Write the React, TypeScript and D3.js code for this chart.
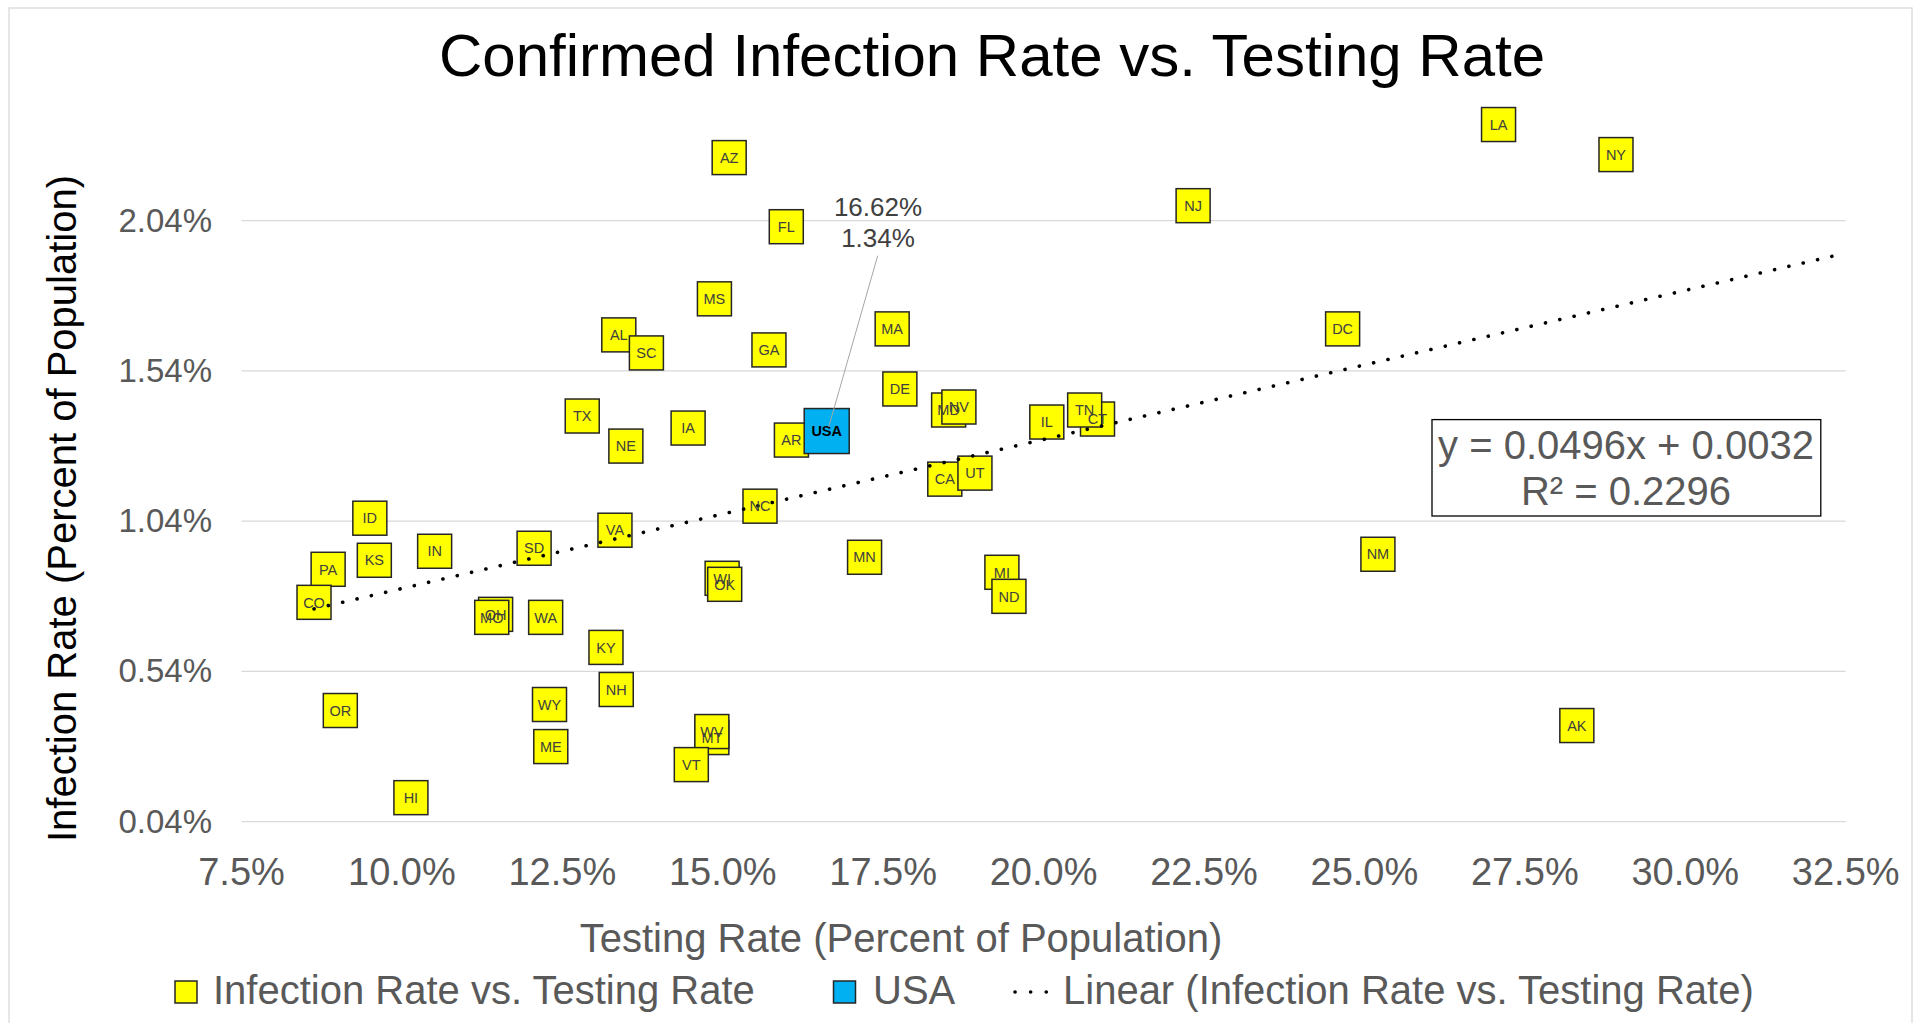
import React from 'react';
import * as d3 from 'd3';

// state abbreviations, testing rate (% of pop.) and infection rate (% of pop.)
const states = ["AZ", "LA", "NY", "NJ", "FL", "MS", "MA", "DC", "AL", "SC", "GA", "DE", "MD", "NV", "CT", "TN", "IL", "TX", "IA", "AR", "NE", "CA", "UT", "NC", "ID", "VA", "SD", "IN", "PA", "KS", "CO", "MN", "NM", "MI", "ND", "WI", "OK", "OH", "MO", "WA", "KY", "NH", "WY", "OR", "MT", "WV", "ME", "VT", "AK", "HI"];
const testingRate = [15.10, 27.09, 28.92, 22.33, 15.99, 14.87, 17.64, 24.66, 13.38, 13.81, 15.72, 17.76, 18.52, 18.68, 20.84, 20.64, 20.05, 12.81, 14.46, 16.07, 13.49, 18.46, 18.93, 15.58, 9.50, 13.32, 12.06, 10.51, 8.85, 9.57, 8.63, 17.21, 25.21, 19.35, 19.46, 14.99, 15.03, 11.46, 11.40, 12.24, 13.18, 13.34, 12.30, 9.04, 14.83, 14.83, 12.32, 14.51, 28.31, 10.14];
const infectionRate = [2.25, 2.36, 2.26, 2.09, 2.02, 1.78, 1.68, 1.68, 1.66, 1.60, 1.61, 1.48, 1.41, 1.42, 1.38, 1.41, 1.37, 1.39, 1.35, 1.31, 1.29, 1.18, 1.20, 1.09, 1.05, 1.01, 0.95, 0.94, 0.88, 0.91, 0.77, 0.92, 0.93, 0.87, 0.79, 0.85, 0.83, 0.73, 0.72, 0.72, 0.62, 0.48, 0.43, 0.41, 0.32, 0.34, 0.29, 0.23, 0.36, 0.12];

const usaTesting = 16.62;
const usaInfection = 1.34;

// trendline from the chart's equation (fractions)
const trendSlope = 0.0496;
const trendIntercept = 0.0032;
const trendR2 = 0.2296;
const trendEnd = 32.5;

const xTicks = [7.5, 10, 12.5, 15, 17.5, 20, 22.5, 25, 27.5, 30, 32.5];
const yTicks = [0.04, 0.54, 1.04, 1.54, 2.04];

const FONT = '"Liberation Sans", Arial, sans-serif';

const App = () => {
  const x = d3.scaleLinear().domain([7.5, 32.5]).range([241.5, 1845.7]);
  const y = d3.scaleLinear().domain([0.04, 2.04]).range([821.7, 220.7]);

  const points = states.map((s, i) => ({ s, tx: testingRate[i], ir: infectionRate[i] }));

  const trendStart = d3.min(testingRate);
  const trendY = (t) => (trendSlope * (t / 100) + trendIntercept) * 100;
  const trendLine = d3.line()
    .x(d => x(d))
    .y(d => y(trendY(d)));

  const box = 34;
  const usaBox = 45;

  return (
    <div style={{ position: 'absolute', left: 0, top: 0 }}>
      <svg width={1921} height={1023} style={{ display: 'block', background: '#fff' }} fontFamily={FONT}>
        <rect x={9} y={8} width={1903} height={1030} fill="#fff" stroke="#d9d9d9" strokeWidth={1.3} />

        {/* title */}
        <text x={992} y={76} textAnchor="middle" fontSize={60} fill="#000">
          Confirmed Infection Rate vs. Testing Rate
        </text>

        {/* gridlines */}
        {yTicks.map(t => (
          <line key={t} x1={x(7.5)} x2={x(32.5)} y1={y(t)} y2={y(t)} stroke="#d9d9d9" strokeWidth={1.3} />
        ))}

        {/* y tick labels */}
        {yTicks.map(t => (
          <text key={t} x={212} y={y(t) + 11} textAnchor="end" fontSize={33} fill="#595959">
            {d3.format('.2f')(t)}%
          </text>
        ))}

        {/* x tick labels */}
        {xTicks.map(t => (
          <text key={t} x={x(t)} y={885} textAnchor="middle" fontSize={38} fill="#595959">
            {d3.format('.1f')(t)}%
          </text>
        ))}

        {/* axis titles */}
        <text x={901} y={952} textAnchor="middle" fontSize={40} fill="#595959">
          Testing Rate (Percent of Population)
        </text>
        <text transform="translate(76,508.5) rotate(-90)" textAnchor="middle" fontSize={40} fill="#000">
          Infection Rate (Percent of Population)
        </text>

        {/* state markers */}
        {points.map(p => (
          <rect key={p.s} x={x(p.tx) - box / 2} y={y(p.ir) - box / 2} width={box} height={box}
            fill="#ffff00" stroke="#262626" strokeWidth={1.5} />
        ))}

        {/* trendline */}
        <path d={trendLine([trendStart, trendEnd])} fill="none" stroke="#000" strokeWidth={3.6}
          strokeLinecap="round" strokeDasharray="0.1 14.6" />

        {/* USA marker */}
        <rect x={x(usaTesting) - usaBox / 2} y={y(usaInfection) - usaBox / 2} width={usaBox} height={usaBox}
          fill="#00b0f0" stroke="#262626" strokeWidth={1.5} />

        {/* state labels */}
        {points.map(p => (
          <text key={p.s} x={x(p.tx)} y={y(p.ir)} dy="0.36em" textAnchor="middle" fontSize={14.5} fill="#404040">
            {p.s}
          </text>
        ))}
        <text x={x(usaTesting)} y={y(usaInfection)} dy="0.36em" textAnchor="middle" fontSize={14.5}
          fontWeight="bold" fill="#000">USA</text>

        {/* USA callout */}
        <line x1={877.7} y1={255.7} x2={x(usaTesting) + 2} y2={y(usaInfection) - 4} stroke="#a6a6a6" strokeWidth={1} />
        <text x={878} y={216} textAnchor="middle" fontSize={26} fill="#404040">{usaTesting.toFixed(2)}%</text>
        <text x={878} y={246.5} textAnchor="middle" fontSize={26} fill="#404040">{usaInfection.toFixed(2)}%</text>

        {/* equation box */}
        <rect x={1432} y={419.6} width={388.8} height={96.4} fill="#fff" stroke="#000" strokeWidth={1.3} />
        <text x={1626} y={459} textAnchor="middle" fontSize={40} fill="#595959">
          y = {trendSlope}x + {trendIntercept.toFixed(4)}
        </text>
        <text x={1626} y={505} textAnchor="middle" fontSize={40} fill="#595959">
          R² = {trendR2}
        </text>

        {/* legend */}
        <rect x={175} y={981} width={22} height={22} fill="#ffff00" stroke="#262626" strokeWidth={1.5} />
        <text x={213} y={1004} fontSize={40} fill="#595959">Infection Rate vs. Testing Rate</text>
        <rect x={833.5} y={981} width={22} height={22} fill="#00b0f0" stroke="#262626" strokeWidth={1.5} />
        <text x={873} y={1004} fontSize={40} fill="#595959">USA</text>
        <line x1={1015} x2={1050} y1={992} y2={992} stroke="#000" strokeWidth={3.6}
          strokeLinecap="round" strokeDasharray="0.1 15.5" />
        <text x={1063} y={1004} fontSize={40} fill="#595959">Linear (Infection Rate vs. Testing Rate)</text>
      </svg>
    </div>
  );
};

export default App;
